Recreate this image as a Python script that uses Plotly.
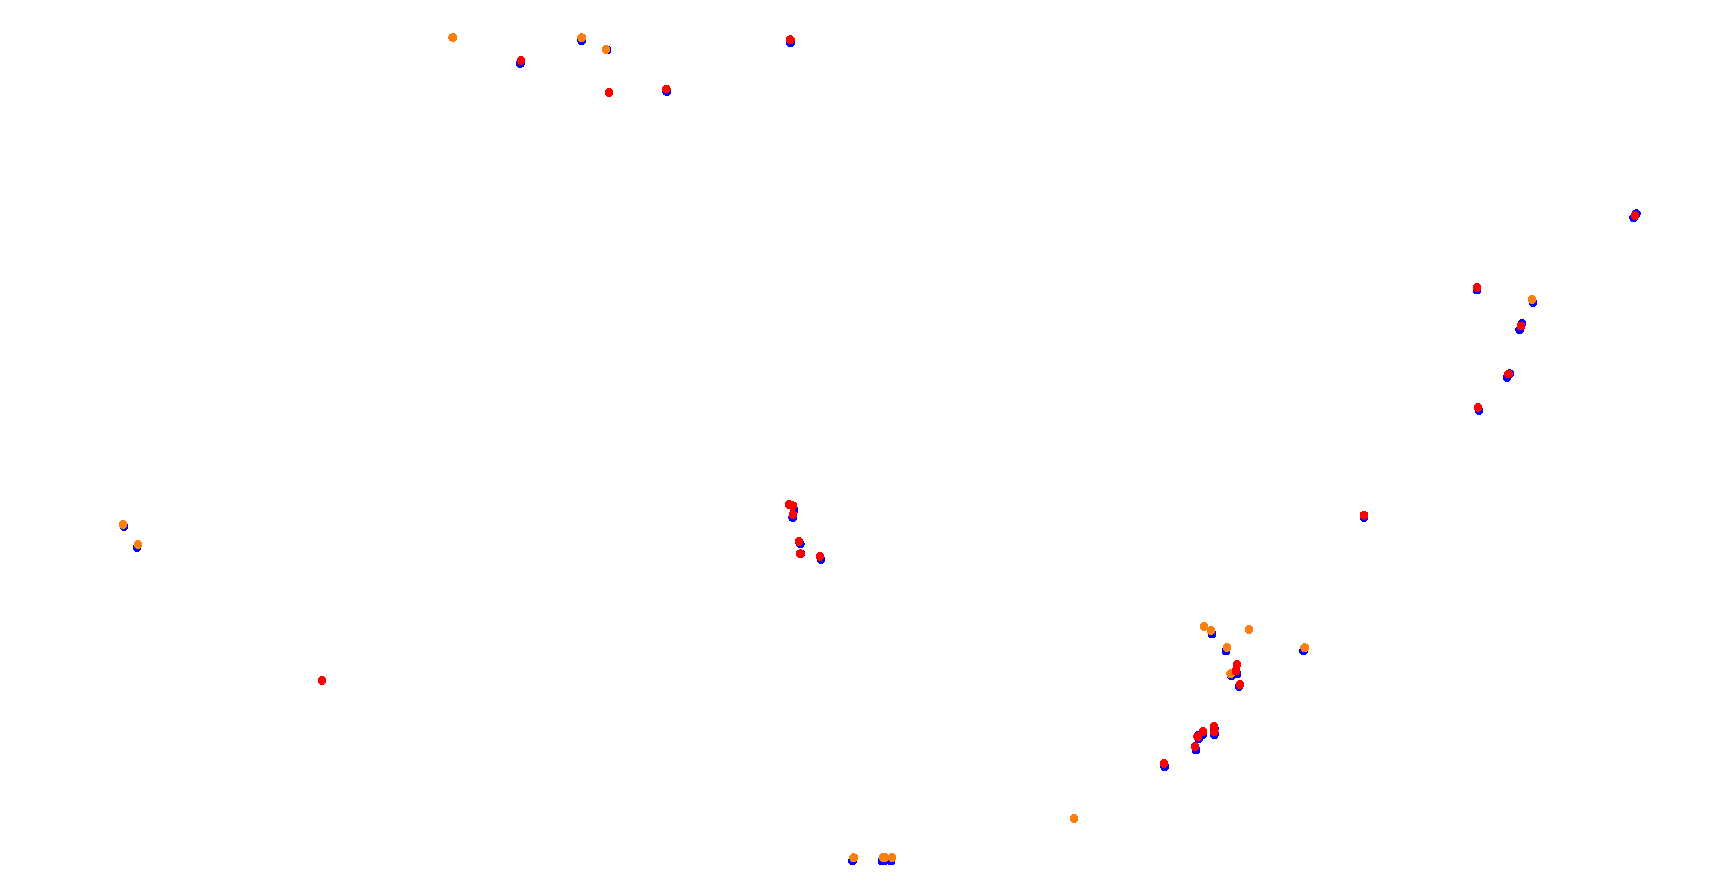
import plotly.graph_objects as go

blue_x = [520.3, 581.7, 607, 666.7, 790.7, 1212, 1226, 1303.7, 1237, 1231.7, 1239, 1214.3, 1214.3, 1199, 1198.7, 1203, 1196, 1164.7, 794, 792.7, 800.3, 800.7, 821, 852.7, 882, 884, 891, 1636.3, 1633.7, 1477, 1533, 1522, 1519.7, 1509.7, 1507, 1479, 124, 137, 1364]
blue_y = [62.7, 40, 49.3, 90.7, 42.3, 633.3, 650.3, 650.3, 673.3, 675.3, 686, 728, 734, 734.3, 737.7, 733.7, 749.3, 766, 509.3, 516.7, 543.3, 553, 559, 860.3, 860.3, 860.3, 860.3, 213, 217, 289.3, 301.7, 323, 329, 373, 377, 410, 526, 547, 517]

orange_x = [452.7, 581.7, 606, 1204, 1211, 1249, 1227, 1304.7, 1230.7, 853.7, 883, 885, 892, 1532, 123, 138, 1074]
orange_y = [36.7, 37, 49, 626, 630, 629, 647, 647, 673, 857, 857, 857, 857, 298.7, 524, 544, 818]

red_x = [521, 609, 666.3, 790.3, 1237, 1236, 1240, 1214, 1214.3, 1197.7, 1203, 1195, 1164, 789, 792.7, 793, 799, 800.3, 820, 1635, 1477, 1521, 1508.7, 1478, 322, 1364]
red_y = [60, 91.7, 88.3, 39, 664, 670.3, 684, 726, 731.3, 735.7, 731, 746, 763, 503.7, 505, 513.7, 541, 553, 556, 215, 286.7, 325.3, 373.3, 407, 680, 514.5]

fig = go.Figure()
for name, xs, ys, color in [("blue", blue_x, blue_y, "#0000ff"),
                            ("orange", orange_x, orange_y, "#ff7f0e"),
                            ("red", red_x, red_y, "#ff0000")]:
    fig.add_trace(go.Scatter(x=xs, y=ys, mode="markers", name=name,
                             marker=dict(color=color, size=9, line=dict(width=0))))
fig.update_layout(width=1695, height=874, margin=dict(l=0, r=0, t=0, b=0),
                  showlegend=False, plot_bgcolor="white", paper_bgcolor="white",
                  xaxis=dict(range=[8, 1703], visible=False),
                  yaxis=dict(range=[881.3, 7.3], visible=False))
fig.write_html("out.html",
               post_script="document.querySelectorAll('.point').forEach(function(p){p.style.shapeRendering='crispEdges';});")
